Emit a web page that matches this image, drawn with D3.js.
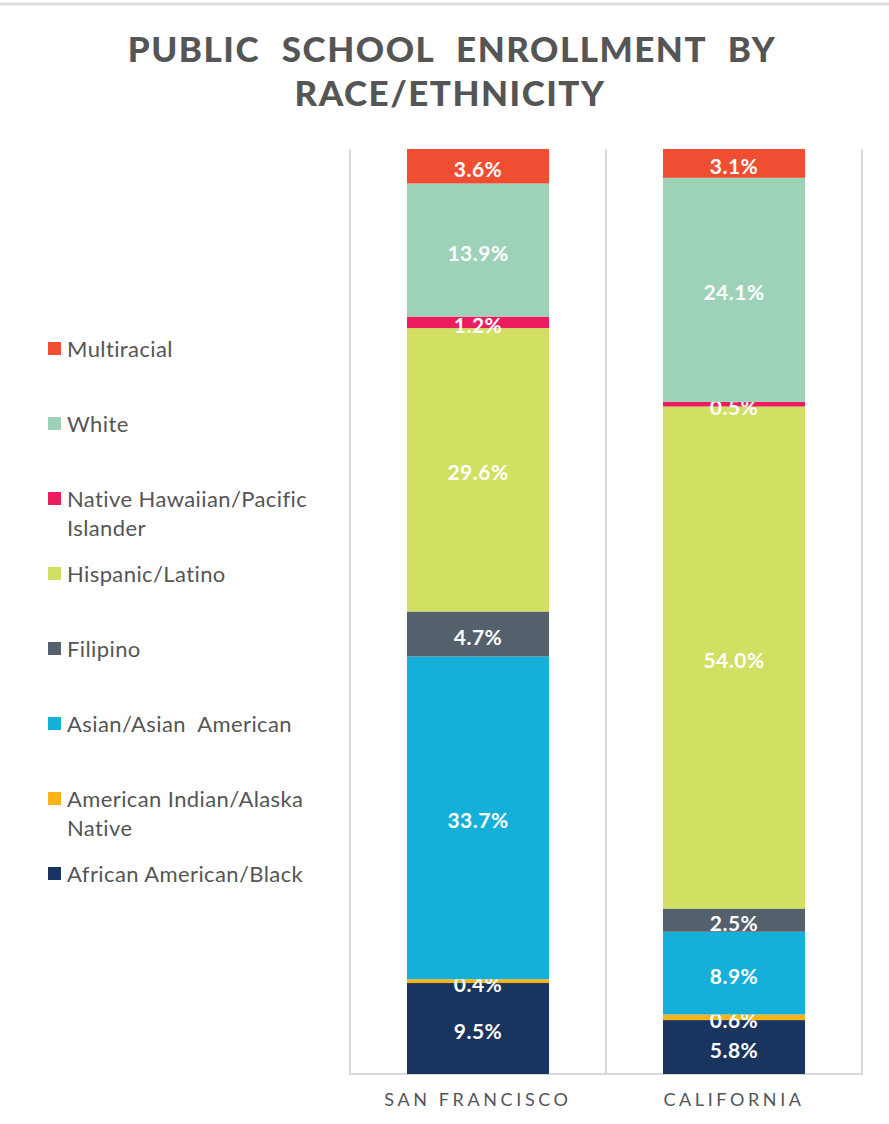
<!DOCTYPE html>
<html lang="en">
  <head>
    <meta charset="utf-8" />
    <title>Public School Enrollment by Race/Ethnicity</title>
    <script src="https://d3js.org/d3.v7.min.js"></script>
    <style type="text/css">
      body {
        margin: 0;
        background: white;
      }
      text {
        font-family: Lato, "Open Sans", sans-serif;
        white-space: pre;
      }
      .title {
        font-size: 35px;
        font-weight: 900;
        fill: #555555;
        letter-spacing: 1.5px;
        word-spacing: 12px;
      }
      .legend text {
        font-size: 22px;
        fill: #555555;
        letter-spacing: 0.4px;
      }
      .barLabel {
        font-size: 21px;
        font-weight: 700;
        fill: white;
        letter-spacing: 0.5px;
      }
      .catLabel {
        font-size: 18px;
        fill: #555555;
        letter-spacing: 3.6px;
      }
    </style>
  </head>
  <body>
    <script type="text/javascript">
      const w = 889;
      const h = 1124;

      // Data (stack order bottom to top)
      const categories = ["SAN FRANCISCO", "CALIFORNIA"];
      const groups = [
        "African American/Black",
        "American Indian/Alaska Native",
        "Asian/Asian  American",
        "Filipino",
        "Hispanic/Latino",
        "Native Hawaiian/Pacific Islander",
        "White",
        "Multiracial"
      ];
      const sanFrancisco = [9.5, 0.4, 33.7, 4.7, 29.6, 1.2, 13.9, 3.6];
      const california = [5.8, 0.6, 8.9, 2.5, 54.0, 0.5, 24.1, 3.1];
      const colors = [
        "#1a3460",
        "#fbb316",
        "#14b0da",
        "#54606c",
        "#d1df63",
        "#ec1c5f",
        "#9ed2b8",
        "#ef4e33"
      ];
      // legend labels wrap like the original
      const legendLines = {
        "Native Hawaiian/Pacific Islander": ["Native Hawaiian/Pacific", "Islander"],
        "American Indian/Alaska Native": ["American Indian/Alaska", "Native"]
      };

      const series = [sanFrancisco, california];
      const rows = categories.map(function (c, i) {
        const row = { category: c };
        groups.forEach(function (g, j) {
          row[g] = series[i][j];
        });
        return row;
      });

      const stack = d3.stack().keys(groups).offset(d3.stackOffsetExpand);
      const stacked = stack(rows);

      const plot = { left: 350, right: 862, top: 149, bottom: 1074 };

      const x = d3
        .scaleBand()
        .domain(categories)
        .range([plot.left, plot.right])
        .paddingInner(0.445)
        .paddingOuter(0.2225);

      const y = d3.scaleLinear().domain([0, 1]).range([plot.bottom, plot.top]);

      const color = d3.scaleOrdinal().domain(groups).range(colors);

      const svg = d3
        .select("body")
        .append("svg")
        .attr("width", w)
        .attr("height", h);

      // frame line at top
      svg
        .append("line")
        .attr("x1", 0)
        .attr("x2", w)
        .attr("y1", 4)
        .attr("y2", 4)
        .attr("stroke", "#dddddd")
        .attr("stroke-width", 3);

      // Title
      svg
        .append("text")
        .attr("class", "title")
        .attr("x", 452)
        .attr("y", 62)
        .attr("text-anchor", "middle")
        .text("PUBLIC SCHOOL ENROLLMENT BY");
      svg
        .append("text")
        .attr("class", "title")
        .attr("x", 450)
        .attr("y", 106)
        .attr("text-anchor", "middle")
        .text("RACE/ETHNICITY");

      // Grid: vertical separators and baseline
      const sep = [plot.left, (plot.left + plot.right) / 2, plot.right];
      svg
        .selectAll("line.grid")
        .data(sep)
        .enter()
        .append("line")
        .attr("class", "grid")
        .attr("x1", function (d) { return d; })
        .attr("x2", function (d) { return d; })
        .attr("y1", plot.top)
        .attr("y2", plot.bottom)
        .attr("stroke", "#d9d9d9")
        .attr("stroke-width", 2);
      svg
        .append("line")
        .attr("x1", plot.left - 1)
        .attr("x2", plot.right + 1)
        .attr("y1", plot.bottom)
        .attr("y2", plot.bottom)
        .attr("stroke", "#d9d9d9")
        .attr("stroke-width", 2);

      // Bars
      const layers = svg
        .selectAll("g.layer")
        .data(stacked)
        .enter()
        .append("g")
        .attr("class", "layer")
        .attr("fill", function (d) { return color(d.key); });

      layers
        .selectAll("rect")
        .data(function (d) { return d; })
        .enter()
        .append("rect")
        .attr("x", function (d) { return x(d.data.category); })
        .attr("width", x.bandwidth())
        .attr("y", function (d) { return y(d[1]); })
        .attr("height", function (d) { return y(d[0]) - y(d[1]); });

      // Value labels
      layers
        .selectAll("text")
        .data(function (layer) {
          return layer.map(function (d) {
            return { seg: d, key: layer.key };
          });
        })
        .enter()
        .append("text")
        .attr("class", "barLabel")
        .attr("x", function (d) { return x(d.seg.data.category) + x.bandwidth() / 2; })
        .attr("y", function (d) { return (y(d.seg[0]) + y(d.seg[1])) / 2 + 2; })
        .attr("text-anchor", "middle")
        .attr("dominant-baseline", "central")
        .text(function (d) { return d.seg.data[d.key].toFixed(1) + "%"; });

      // Category labels
      svg
        .selectAll("text.catLabel")
        .data(categories)
        .enter()
        .append("text")
        .attr("class", "catLabel")
        .attr("x", function (d) { return x(d) + x.bandwidth() / 2; })
        .attr("y", 1106)
        .attr("text-anchor", "middle")
        .text(function (d) { return d; });

      // Legend (top to bottom, reverse of stack)
      const legendOrder = groups.slice().reverse();
      const legend = svg
        .append("g")
        .attr("class", "legend")
        .selectAll("g")
        .data(legendOrder)
        .enter()
        .append("g")
        .attr("transform", function (d, i) {
          return "translate(48," + (350 + i * 75) + ")";
        });

      legend
        .append("rect")
        .attr("x", 0)
        .attr("y", -8)
        .attr("width", 13)
        .attr("height", 13)
        .attr("fill", function (d) { return color(d); });

      legend
        .append("text")
        .attr("x", 19)
        .attr("y", 7)
        .selectAll("tspan")
        .data(function (d) { return legendLines[d] || [d]; })
        .enter()
        .append("tspan")
        .attr("x", 19)
        .attr("dy", function (d, i) { return i === 0 ? 0 : 29; })
        .text(function (d) { return d; });
    </script>
  </body>
</html>
